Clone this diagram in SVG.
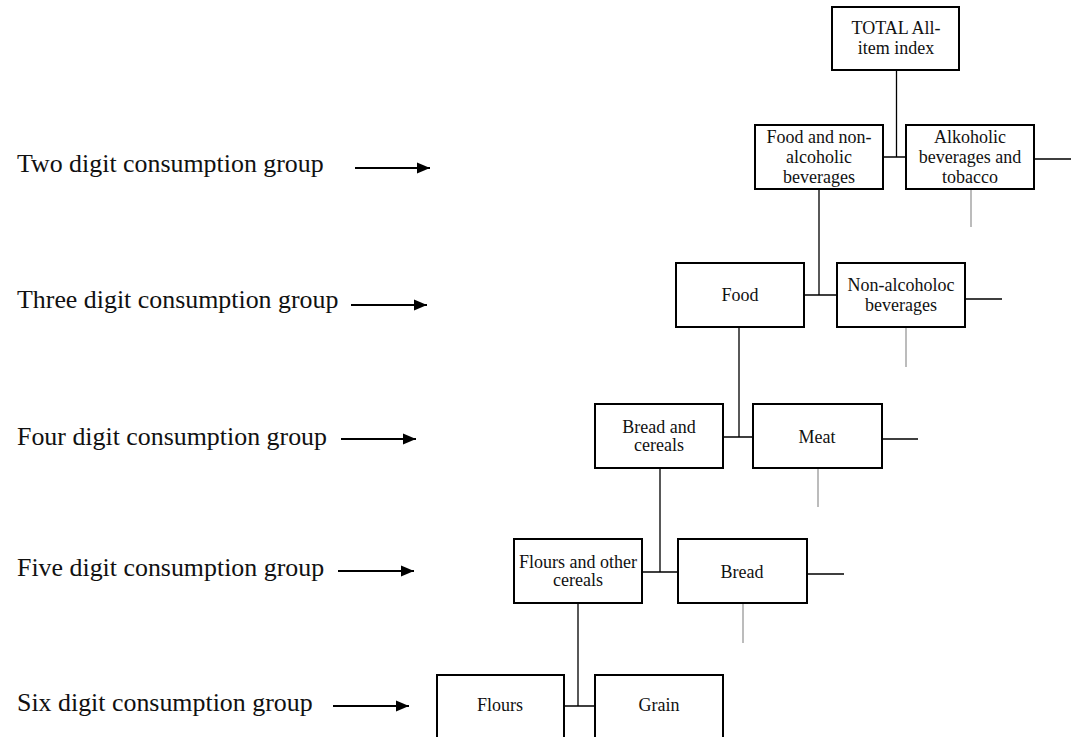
<svg xmlns="http://www.w3.org/2000/svg" width="1071" height="737" viewBox="0 0 1071 737">
<defs>
<style>
.box{fill:#fff;stroke:#000;stroke-width:2}
.t{font-family:"Liberation Serif","Times New Roman",serif;font-size:18px;fill:#111;text-anchor:middle}
.lbl{font-family:"Liberation Serif","Times New Roman",serif;font-size:25.9px;fill:#111}
.c{stroke:#000;stroke-width:1.3;fill:none}
.g{stroke:#999;stroke-width:1.3;fill:none}
.arr{stroke:#000;stroke-width:2.2;fill:none;marker-end:url(#ah)}
</style>
<marker id="ah" markerUnits="userSpaceOnUse" markerWidth="14" markerHeight="14" viewBox="0 0 14 14" refX="13" refY="7" orient="auto">
<path d="M0,1.5 L13,7 L0,12.5 Z" fill="#000"/>
</marker>
</defs>
<rect width="1071" height="737" fill="#fff"/>
<g id="labels">
<text class="lbl" x="17" y="172">Two digit consumption group</text>
<text class="lbl" x="17" y="308">Three digit consumption group</text>
<text class="lbl" x="17" y="445">Four digit consumption group</text>
<text class="lbl" x="17" y="576">Five digit consumption group</text>
<text class="lbl" x="17" y="711">Six digit consumption group</text>
<path class="arr" d="M355 168 H430"/>
<path class="arr" d="M351 305 H427"/>
<path class="arr" d="M341 439 H416"/>
<path class="arr" d="M338 571 H414"/>
<path class="arr" d="M333 706 H409"/>
</g>
<g id="connectors">
<path class="c" d="M896.5 70 V157 M883 157 H906 M1034 159 H1071 M819 189 V295 M804 295 H837 M965 299 H1002 M739 327 V437 M723 437 H753 M882 439 H918 M660 468 V572 M642 572 H678 M807 574 H844 M578 603 V706 M564 706 H595"/>
<path class="g" d="M971 189 V227 M906 327 V367 M818 468 V507 M743 603 V643"/>
</g>
<g id="total"><rect class="box" x="832" y="7" width="127" height="63"/><text class="t" x="896" y="34">TOTAL All-</text><text class="t" x="896" y="54">item index</text></g>
<g id="food-nonalc"><rect class="box" x="755" y="125" width="128" height="64"/><text class="t" x="819" y="143">Food and non-</text><text class="t" x="819" y="163">alcoholic</text><text class="t" x="819" y="183">beverages</text></g>
<g id="alkoholic"><rect class="box" x="906" y="125" width="128" height="64"/><text class="t" x="970" y="143">Alkoholic</text><text class="t" x="970" y="163">beverages and</text><text class="t" x="970" y="183">tobacco</text></g>
<g id="food"><rect class="box" x="676" y="263" width="128" height="64"/><text class="t" x="740" y="301">Food</text></g>
<g id="nonalc"><rect class="box" x="837" y="263" width="128" height="64"/><text class="t" x="901" y="291">Non-alcoholoc</text><text class="t" x="901" y="311">beverages</text></g>
<g id="bread-cereals"><rect class="box" x="595" y="404" width="128" height="64"/><text class="t" x="659" y="433">Bread and</text><text class="t" x="659" y="451">cereals</text></g>
<g id="meat"><rect class="box" x="753" y="404" width="129" height="64"/><text class="t" x="817" y="443">Meat</text></g>
<g id="flours-other"><rect class="box" x="514" y="539" width="128" height="64"/><text class="t" x="578" y="568">Flours and other</text><text class="t" x="578" y="586">cereals</text></g>
<g id="bread"><rect class="box" x="678" y="539" width="129" height="64"/><text class="t" x="742" y="578">Bread</text></g>
<g id="flours"><rect class="box" x="437" y="675" width="127" height="64"/><text class="t" x="500" y="711">Flours</text></g>
<g id="grain"><rect class="box" x="595" y="675" width="128" height="64"/><text class="t" x="659" y="711">Grain</text></g>
</svg>
